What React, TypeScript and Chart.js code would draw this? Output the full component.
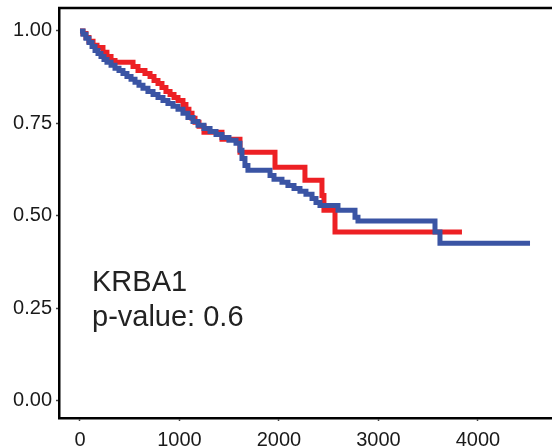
import React, { useEffect, useRef } from 'react';
import { Chart, registerables } from 'chart.js';

Chart.register(...registerables);

const geneLabel = 'KRBA1';
const pValueLabel = 'p-value: 0.6';
const xTicks = [0, 1000, 2000, 3000, 4000];
const yTicks = [0, 0.25, 0.5, 0.75, 1];

const redTimes = [0, 30, 60, 90, 131, 171, 231, 271, 312, 352, 533, 583, 653, 704, 744, 784, 824, 864, 905, 945, 985, 1035, 1065, 1095, 1126, 1156, 1196, 1246, 1427, 1608, 1960, 2261, 2432, 2452, 2563, 3839];
const redSurv = [1, 0.993, 0.982, 0.972, 0.961, 0.955, 0.942, 0.931, 0.92, 0.915, 0.904, 0.893, 0.885, 0.877, 0.866, 0.858, 0.847, 0.836, 0.828, 0.82, 0.812, 0.801, 0.788, 0.777, 0.764, 0.753, 0.742, 0.726, 0.707, 0.672, 0.631, 0.596, 0.555, 0.515, 0.456, 0.456];

const blueTimes = [0, 30, 60, 90, 121, 151, 181, 211, 241, 271, 312, 352, 392, 432, 472, 513, 553, 593, 633, 683, 734, 784, 834, 884, 935, 985, 1035, 1085, 1136, 1186, 1246, 1307, 1367, 1427, 1497, 1568, 1608, 1628, 1658, 1688, 1910, 1950, 2030, 2090, 2151, 2211, 2271, 2332, 2372, 2412, 2593, 2764, 2794, 3568, 3618, 4523];
const blueSurv = [1, 0.991, 0.98, 0.969, 0.958, 0.947, 0.939, 0.931, 0.923, 0.915, 0.907, 0.899, 0.893, 0.885, 0.877, 0.869, 0.861, 0.853, 0.845, 0.836, 0.828, 0.82, 0.812, 0.804, 0.796, 0.788, 0.777, 0.766, 0.755, 0.745, 0.736, 0.728, 0.72, 0.712, 0.704, 0.696, 0.677, 0.655, 0.636, 0.623, 0.609, 0.599, 0.591, 0.582, 0.574, 0.566, 0.558, 0.547, 0.536, 0.528, 0.515, 0.496, 0.486, 0.456, 0.426, 0.426];

const RED = '#ED2024';
const BLUE = '#3A54A4';
const FONT = '"Liberation Sans", Arial, Helvetica, sans-serif';

export default function App() {
  const ref = useRef<HTMLCanvasElement | null>(null);

  useEffect(() => {
    if (!ref.current) return;
    const toPts = (t: number[], s: number[]) => t.map((v, i) => ({ x: v, y: s[i] }));

    const framePlugin = {
      id: 'frameAndText',
      afterDraw(chart: any) {
        const { ctx, chartArea } = chart;
        ctx.save();
        ctx.strokeStyle = '#000';
        ctx.lineWidth = 2.5;
        ctx.beginPath();
        ctx.moveTo(chartArea.left - 1, chartArea.top);
        ctx.lineTo(chartArea.right, chartArea.top);
        ctx.stroke();
        ctx.fillStyle = '#222';
        ctx.font = '29px ' + FONT;
        ctx.textBaseline = 'alphabetic';
        ctx.textAlign = 'left';
        ctx.fillText(geneLabel, 92, 291);
        ctx.fillText(pValueLabel, 92, 326);
        ctx.restore();
      },
    };

    const zeroPad = (s: any) => {
      s.paddingTop = 0;
      s.paddingBottom = 0;
      s.paddingLeft = 0;
      s.paddingRight = 0;
    };

    const chart = new Chart(ref.current, {
      type: 'line',
      data: {
        datasets: [
          {
            data: toPts(blueTimes, blueSurv),
            borderColor: BLUE,
            borderWidth: 5,
            pointRadius: 0,
            stepped: 'before',
            fill: false,
          },
          {
            data: toPts(redTimes, redSurv),
            borderColor: RED,
            borderWidth: 5,
            pointRadius: 0,
            stepped: 'before',
            fill: false,
          },
        ],
      },
      options: {
        responsive: false,
        animation: false,
        events: [],
        layout: { padding: { top: 8, left: 0, right: 0, bottom: 0 } },
        plugins: { legend: { display: false }, tooltip: { enabled: false } },
        scales: {
          x: {
            type: 'linear',
            min: -211,
            max: 4744,
            afterBuildTicks: (s: any) => {
              s.ticks = xTicks.map((v) => ({ value: v }));
            },
            afterFit: (s: any) => {
              s.height = 29;
              zeroPad(s);
            },
            ticks: {
              font: { family: FONT, size: 20 },
              color: '#1a1a1a',
              padding: 7,
              maxRotation: 0,
              autoSkip: false,
              callback: (v: any) => String(v),
            },
            grid: { drawOnChartArea: false, drawTicks: true, tickLength: 3, tickColor: '#444', tickWidth: 1.5 },
            border: { display: true, color: '#000', width: 2.5 },
          },
          y: {
            type: 'linear',
            min: -0.047,
            max: 1.062,
            afterBuildTicks: (s: any) => {
              s.ticks = yTicks.map((v) => ({ value: v }));
            },
            afterFit: (s: any) => {
              s.width = 59;
              zeroPad(s);
            },
            ticks: {
              font: { family: FONT, size: 20 },
              color: '#1a1a1a',
              padding: 4,
              callback: (v: any) => Number(v).toFixed(2),
            },
            grid: { drawOnChartArea: false, drawTicks: true, tickLength: 3, tickColor: '#444', tickWidth: 1.5 },
            border: { display: true, color: '#000', width: 2.5 },
          },
        },
      },
      plugins: [framePlugin],
    });
    return () => chart.destroy();
  }, []);

  return (
    <div style={{ position: 'absolute', left: 0, top: 0, width: 552, height: 447, background: '#fff' }}>
      <canvas ref={ref} width={552} height={447} style={{ width: 552, height: 447, display: 'block' }} />
    </div>
  );
}
